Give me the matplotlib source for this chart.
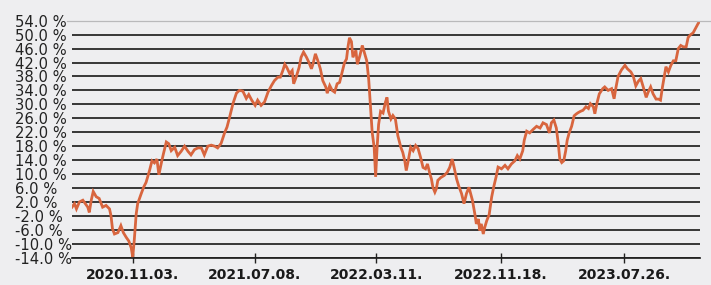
import matplotlib
matplotlib.use("Agg")
import matplotlib.pyplot as plt
import matplotlib.dates as mdates
from matplotlib.lines import Line2D
import pandas as pd
import numpy as np

# Series: days since start date, cumulative return in %
start_date = "2020-07-03"
day_offsets = [
    0, 5, 9, 15, 22, 27, 32, 35, 39, 43, 49, 55, 62, 69, 76, 79, 82, 86, 93, 99,
    104, 110, 115, 120, 123, 126, 130, 133, 140, 145, 150, 157, 162, 167, 172, 176, 181, 185, 191, 196,
    201, 208, 214, 221, 228, 235, 241, 248, 255, 262, 268, 275, 282, 289, 295, 302, 309, 314, 319, 326,
    333, 339, 346, 353, 358, 364, 371, 376, 383, 390, 397, 404, 410, 417, 422, 427, 431, 435, 441, 446,
    449, 454, 460, 464, 469, 475, 480, 485, 488, 493, 498, 503, 508, 514, 517, 522, 527, 532, 537, 542,
    548, 552, 556, 559, 562, 566, 569, 575, 578, 583, 588, 593, 597, 601, 605, 608, 612, 615, 618, 621,
    625, 630, 635, 638, 641, 646, 650, 655, 660, 666, 670, 674, 677, 681, 686, 691, 696, 701, 706, 711,
    716, 720, 725, 728, 731, 735, 738, 741, 747, 754, 760, 765, 770, 774, 779, 783, 789, 794, 799, 804,
    811, 816, 819, 823, 826, 829, 833, 836, 840, 845, 850, 854, 859, 863, 870, 877, 883, 890, 897, 902,
    907, 913, 916, 921, 927, 934, 941, 948, 954, 961, 967, 971, 976, 981, 985, 988, 992, 996, 1000, 1003,
    1007, 1012, 1017, 1021, 1025, 1030, 1035, 1041, 1046, 1050, 1056, 1059, 1063, 1068, 1075, 1079, 1086, 1093, 1098, 1102,
    1106, 1113, 1120, 1125, 1132, 1137, 1142, 1147, 1152, 1157, 1163, 1167, 1172, 1177, 1183, 1188, 1192, 1196, 1200, 1203,
    1208, 1213, 1218, 1223, 1228, 1233, 1238, 1244, 1248, 1253, 1258, 1264, 1269, 1272,
]
returns = [
    0.5, 1.5, 0.0, 2.0, 2.5, 1.5, 0.5, -1.0, 2.5, 5.0, 3.5, 3.0, 0.5, 1.0, 0.0, -2.0, -5.7, -7.2, -6.8, -4.8,
    -6.8, -8.2, -9.2, -11.2, -13.8, -9.2, -1.5, 1.5, 4.3, 6.2, 7.6, 11.0, 13.8, 13.2, 14.3, 9.8, 13.2, 15.7, 19.2, 18.7,
    16.7, 17.7, 15.3, 16.5, 18.0, 16.5, 15.5, 17.0, 17.5, 17.5, 15.5, 18.0, 18.3, 18.0, 17.5, 18.8, 21.8, 23.5, 26.2, 30.2,
    33.2, 34.0, 33.8, 31.7, 32.8, 31.2, 29.7, 31.2, 29.7, 30.7, 33.5, 35.4, 36.8, 37.8, 37.8, 39.7, 41.5, 40.6, 38.8, 39.7,
    35.9, 37.8, 40.6, 43.5, 45.0, 43.5, 42.0, 40.2, 41.5, 44.5, 42.5, 40.2, 36.8, 35.0, 33.2, 35.4, 34.0, 33.5, 35.9, 36.3,
    39.7, 42.0, 43.0, 46.5, 49.1, 48.0, 43.5, 45.5, 41.5, 43.9, 46.9, 44.5, 42.5, 37.1, 28.4, 22.0, 17.7, 9.2, 17.7, 24.2,
    28.0, 27.5, 30.7, 32.0, 28.0, 25.8, 26.8, 25.8, 21.0, 17.7, 16.2, 13.8, 11.0, 13.8, 17.7, 16.7, 18.2, 17.3, 14.8, 11.9,
    11.5, 12.9, 10.0, 8.6, 6.2, 4.8, 5.8, 8.2, 9.0, 9.6, 10.5, 11.9, 14.3, 11.9, 8.6, 6.7, 4.4, 1.5, 4.4, 6.2,
    2.5, -1.5, -4.3, -2.9, -6.2, -4.3, -7.2, -5.3, -3.4, -1.6, 3.4, 6.2, 9.2, 12.0, 11.5, 12.5, 11.5, 12.9, 13.8, 15.3,
    14.3, 16.7, 19.7, 22.3, 21.8, 22.8, 23.7, 23.2, 24.7, 24.2, 21.8, 24.7, 25.5, 23.2, 18.7, 14.3, 13.3, 13.8, 16.7, 19.7,
    21.8, 23.7, 26.7, 27.2, 27.6, 28.0, 28.3, 29.3, 28.8, 30.2, 29.3, 27.3, 30.2, 33.0, 34.5, 35.0, 34.0, 34.5, 31.6, 35.0,
    38.0, 39.9, 41.2, 40.2, 39.3, 38.0, 35.3, 36.6, 37.4, 35.0, 32.0, 33.5, 35.0, 33.0, 31.5, 31.5, 31.2, 35.0, 38.4, 40.8,
    39.3, 41.2, 42.5, 42.5, 46.0, 46.9, 46.5, 46.5, 49.2, 50.0, 50.5, 52.1, 53.4, 53.7,
]
tick_dates = ["2020-11-03", "2021-07-08", "2022-03-11", "2022-11-18", "2023-07-26"]
y_ticks = list(range(-14, 55, 4))

dates = pd.Timestamp(start_date) + pd.to_timedelta(day_offsets, unit="D")

bg = "#eeeef0"
fig = plt.figure(figsize=(7.11, 2.85), dpi=100, facecolor=bg)
ax = fig.add_axes([72 / 711, 27.3 / 285, 628 / 711, 237 / 285], facecolor=bg)

ax.plot(dates, returns, color="#d8653e", lw=2.0, solid_joinstyle="miter", zorder=3)

ax.set_xlim(dates[0], dates[-1])
ax.set_ylim(-14, 54)

# y axis: labels left aligned at the far left
ax.set_yticks(y_ticks)
ax.set_yticklabels([f"{v:.1f} %" for v in y_ticks])
ax.tick_params(axis="y", length=0, pad=41, labelsize=10.6, labelcolor="#222222")
for lbl in ax.get_yticklabels():
    lbl.set_horizontalalignment("left")

ax.grid(axis="y", color="#202020", lw=1.25, zorder=1)
ax.get_ygridlines()[-1].set_visible(False)

# x axis
ax.set_xticks(pd.to_datetime(tick_dates))
ax.xaxis.set_major_formatter(mdates.DateFormatter("%Y.%m.%d."))
ax.tick_params(axis="x", direction="inout", length=7, width=1, color="#222222",
               pad=4, labelsize=10, labelcolor="#1a1a1a")
for lbl in ax.get_xticklabels():
    lbl.set_fontweight("bold")

for side in ["top", "right", "left"]:
    ax.spines[side].set_visible(False)
ax.spines["bottom"].set_color("#202020")
ax.spines["bottom"].set_linewidth(1.25)

# thin grey border line at the top
fig.add_artist(Line2D([67 / 711, 1], [264.3 / 285, 264.3 / 285], color="#b9b9bb", lw=0.9))

fig.savefig("out.png", dpi=100, facecolor=bg)
